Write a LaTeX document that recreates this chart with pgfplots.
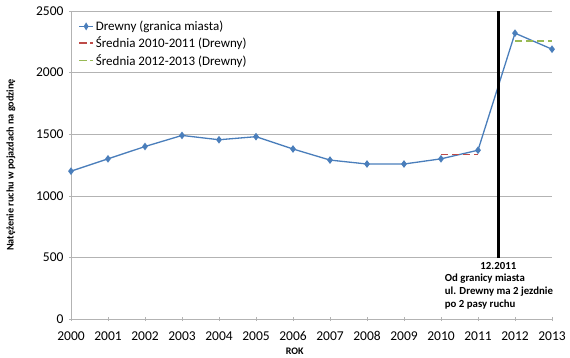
\documentclass[border=0pt]{standalone}
\usepackage{pgfplots}
\pgfplotsset{compat=1.18}
\usepackage{fontspec}
\setmainfont{Carlito}
\definecolor{exblue}{HTML}{4A7EBB}
\definecolor{exred}{HTML}{BE4B48}
\definecolor{exgreen}{HTML}{98B954}
\definecolor{exgrid}{HTML}{B3B3B3}
\begin{document}
\begin{tikzpicture}
\begin{axis}[
  scale only axis,
  width=481pt, height=308pt,
  xmin=2000, xmax=2013, ymin=0, ymax=2500,
  xtick={2000,2001,...,2013},
  ytick={0,500,...,2500},
  /pgf/number format/assume math mode=true,
  xticklabel style={/pgf/number format/1000 sep={}, font=\fontsize{13.5}{15}\selectfont, yshift=-2pt},
  yticklabel style={/pgf/number format/1000 sep={}, font=\fontsize{13.5}{15}\selectfont, xshift=-2pt},
  xticklabel shift=5pt,
  scaled ticks=false,
  axis x line=bottom, axis y line=left,
  axis line style={exgrid, -},
  tick style={exgrid, thin},
  major tick length=4pt,
  ymajorgrids, grid style={exgrid, thin},
  xlabel={\textbf{ROK}},
  xlabel style={font=\fontsize{10}{12}\selectfont, at={(axis description cs:0.465,-0.106)}, anchor=center},
  ylabel={\textbf{Natężenie ruchu w pojazdach na godzinę}},
  ylabel style={font=\fontsize{10.2}{12}\selectfont, at={(axis description cs:-0.125,0.5)}, anchor=center, rotate=0},
  legend style={at={(0.015,0.975)}, anchor=north west, draw=none, fill=none,
    font=\fontsize{13}{15}\selectfont, row sep=1pt, inner sep=0pt},
  legend image post style={xscale=0.8},
  legend cell align=left,
  clip=false,
]
\addplot[exblue, line width=1.3pt, mark=diamond*, mark size=2.8pt, mark options={fill=exblue, draw=exblue}]
coordinates {(2000,1200)(2001,1300)(2002,1400)(2003,1490)(2004,1455)(2005,1480)(2006,1380)(2007,1290)(2008,1258)(2009,1258)(2010,1300)(2011,1370)(2012,2320)(2013,2190)};
\addlegendentry{Drewny (granica miasta)}
\addplot[exred, line width=1.8pt, dash pattern=on 7pt off 4pt, no marks]
coordinates {(2010,1335)(2011,1335)};
\addlegendentry{Średnia 2010-2011 (Drewny)}
\addplot[exgreen, line width=1.8pt, dash pattern=on 7pt off 4pt, no marks]
coordinates {(2012,2255)(2013,2255)};
\addlegendentry{Średnia 2012-2013 (Drewny)}
\addplot[black, line width=2.8pt, no marks, forget plot]
coordinates {(2011.55,495)(2011.55,2500)};
\node[font=\fontsize{10.8}{12}\selectfont\bfseries, anchor=center] at (axis cs:2011.55,428) {12.2011};
\node[font=\fontsize{10.8}{13}\selectfont\bfseries, anchor=north west, align=left, inner sep=0pt] at (axis cs:2010.1,365) {Od granicy miasta\\ul. Drewny ma 2 jezdnie\\po 2 pasy ruchu};
\end{axis}
\pgfresetboundingbox
\useasboundingbox (-71pt,-38pt) rectangle (499pt,319pt);
\end{tikzpicture}
\end{document}
